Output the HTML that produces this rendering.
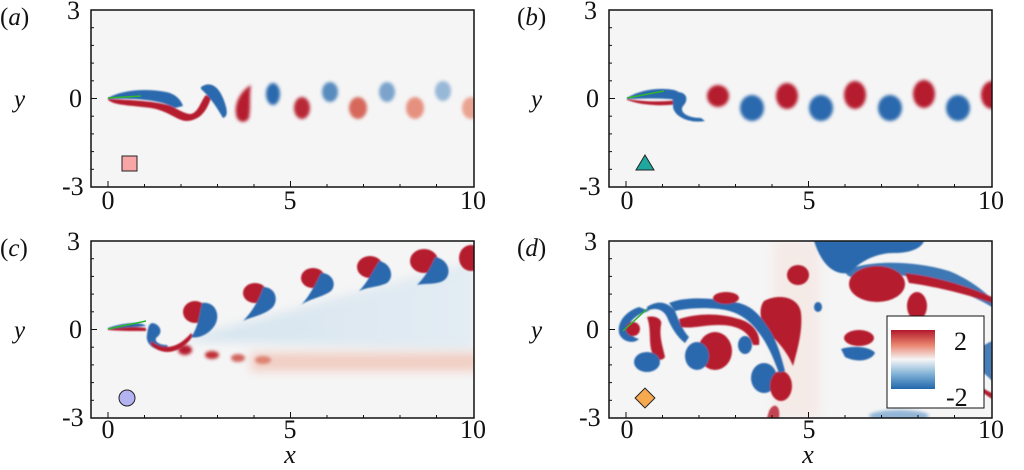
<!DOCTYPE html>
<html><head><meta charset="utf-8"><style>
html,body{margin:0;padding:0;background:#fff;width:1024px;height:470px;overflow:hidden}
svg{display:block}
</style></head><body>
<svg width="1024" height="470" viewBox="0 0 1024 470">
<defs>
<filter id="b1" x="-50%" y="-50%" width="200%" height="200%"><feGaussianBlur stdDeviation="1.6"/></filter>
<filter id="b2" x="-50%" y="-50%" width="200%" height="200%"><feGaussianBlur stdDeviation="5"/></filter>
<filter id="b0" x="-50%" y="-50%" width="200%" height="200%"><feGaussianBlur stdDeviation="0.8"/></filter>
<clipPath id="cp"><rect x="0" y="0" width="383" height="177"/></clipPath>
<linearGradient id="cb" x1="0" y1="0" x2="0" y2="1">
<stop offset="0" stop-color="#b2182b"/><stop offset="0.25" stop-color="#e8836d"/><stop offset="0.5" stop-color="#f6f6f6"/><stop offset="0.75" stop-color="#7fb1d6"/><stop offset="1" stop-color="#2166ac"/>
</linearGradient>
<linearGradient id="fan" x1="0" y1="0" x2="1" y2="0">
<stop offset="0" stop-color="#d3e3ef" stop-opacity="0.9"/><stop offset="1" stop-color="#e2ecf3" stop-opacity="0.9"/>
</linearGradient>
<g id="frame">
<rect x="0" y="0" width="383" height="177" fill="none" stroke="#111" stroke-width="1.5"/>
</g>
<g id="ticks" stroke="#111" stroke-width="1">
<line x1="17" y1="177" x2="17" y2="171"/><line x1="53.5" y1="177" x2="53.5" y2="174"/><line x1="90" y1="177" x2="90" y2="174"/><line x1="126.5" y1="177" x2="126.5" y2="174"/><line x1="163" y1="177" x2="163" y2="174"/><line x1="199.5" y1="177" x2="199.5" y2="171"/><line x1="236" y1="177" x2="236" y2="174"/><line x1="272.5" y1="177" x2="272.5" y2="174"/><line x1="309" y1="177" x2="309" y2="174"/><line x1="345.5" y1="177" x2="345.5" y2="174"/>
<line x1="0" y1="17.7" x2="3" y2="17.7"/><line x1="0" y1="35.4" x2="3" y2="35.4"/><line x1="0" y1="53.1" x2="3" y2="53.1"/><line x1="0" y1="70.8" x2="3" y2="70.8"/><line x1="0" y1="88.5" x2="6" y2="88.5"/><line x1="0" y1="106.2" x2="3" y2="106.2"/><line x1="0" y1="123.9" x2="3" y2="123.9"/><line x1="0" y1="141.6" x2="3" y2="141.6"/><line x1="0" y1="159.3" x2="3" y2="159.3"/>
</g>
</defs>

<!-- ===== Panel (a) ===== -->
<g transform="translate(91,10)">
<rect width="383" height="177" fill="#f5f5f5"/>
<g clip-path="url(#cp)">
<g filter="url(#b0)">
<path d="M17,88 C30,80 55,78 75,82 C85,84 90,90 92,96 L84,98 C70,90 45,88 17,89Z" fill="#2a69ad"/>
<path d="M17,89 C40,90 65,91 80,96 C88,100 94,104 100,104 C108,102 110,90 115,85 L120,88 C116,100 110,110 96,111 C86,111 78,101 60,98 C40,95 25,96 17,90Z" fill="#b51b2d"/>
<path d="M110,77 C120,70 128,78 132,88 C136,98 138,106 132,108 C126,98 120,88 110,79Z" fill="#2a69ad"/>
</g>
<g filter="url(#b1)">
<path d="M146,108 C142,96 148,82 160,75 C158,86 160,96 158,108 C155,113 149,113 146,108Z" fill="#b51b2d"/>
<ellipse cx="182" cy="84" rx="7" ry="11" fill="#2a69ad"/>
<ellipse cx="211" cy="98" rx="8" ry="11" fill="#b51b2d" opacity="0.95"/>
<ellipse cx="239" cy="82" rx="8" ry="10" fill="#3c78b5" opacity="0.85"/>
<ellipse cx="267" cy="98" rx="9" ry="11" fill="#d0503f" opacity="0.85"/>
<ellipse cx="296" cy="82" rx="8" ry="10" fill="#5c8fc2" opacity="0.8"/>
<ellipse cx="324" cy="98" rx="9" ry="11" fill="#e0705a" opacity="0.75"/>
<ellipse cx="352" cy="81" rx="8" ry="10" fill="#78a3cd" opacity="0.75"/>
<ellipse cx="380" cy="98" rx="9" ry="11" fill="#e68870" opacity="0.75"/>
</g>
<line x1="17" y1="88" x2="50" y2="86" stroke="#2db52d" stroke-width="1.5"/>
</g>
<use href="#ticks"/><use href="#frame"/>
<rect x="31" y="146" width="15" height="15" fill="#f7a5a5" stroke="#222" stroke-width="1"/>
</g>

<!-- ===== Panel (b) ===== -->
<g transform="translate(609,10)">
<rect width="383" height="177" fill="#f5f5f5"/>
<g clip-path="url(#cp)">
<g filter="url(#b0)">
<path d="M18,88 C30,80 50,77 65,80 C72,82 74,86 70,90 L60,89 C45,88 30,89 18,89Z" fill="#2a69ad"/>
<path d="M18,89 C35,92 55,92 68,90 L70,94 C55,96 35,96 18,90Z" fill="#b51b2d"/>
<path d="M68,82 C78,82 80,90 74,96 C70,102 78,108 92,108 L96,111 C80,114 64,106 64,96 C64,88 62,84 68,82Z" fill="#2a69ad"/>
</g>
<g filter="url(#b1)">
<circle cx="109" cy="86" r="11" fill="#b51b2d"/>
<ellipse cx="143" cy="98" rx="12" ry="13" fill="#2a69ad"/>
<ellipse cx="178" cy="86" rx="11" ry="13" fill="#b51b2d"/>
<ellipse cx="212" cy="98" rx="12" ry="13" fill="#2a69ad"/>
<ellipse cx="246" cy="85" rx="11" ry="14" fill="#b51b2d"/>
<ellipse cx="281" cy="98" rx="12" ry="13" fill="#2a69ad"/>
<ellipse cx="315" cy="84" rx="11" ry="14" fill="#b51b2d"/>
<ellipse cx="349" cy="98" rx="12" ry="13" fill="#2a69ad"/>
<ellipse cx="383" cy="85" rx="11" ry="14" fill="#b51b2d"/>
</g>
<line x1="18" y1="88" x2="55" y2="81" stroke="#2db52d" stroke-width="1.5"/>
</g>
<use href="#ticks"/><use href="#frame"/>
<polygon points="36,145 45,160 27,160" fill="#1fa8a0" stroke="#222" stroke-width="1"/>
</g>

<!-- ===== Panel (c) ===== -->
<g transform="translate(91,241)">
<rect width="383" height="177" fill="#f5f5f5"/>
<g clip-path="url(#cp)">
<polygon points="100,96 383,20 383,110 100,100" fill="url(#fan)" filter="url(#b2)"/>
<rect x="160" y="112" width="230" height="18" fill="#eeb3a2" opacity="0.6" filter="url(#b2)"/>
<g filter="url(#b1)">
<ellipse cx="94" cy="109" rx="7" ry="5" fill="#b51b2d"/>
<ellipse cx="121" cy="114" rx="7" ry="4" fill="#c02f35"/>
<ellipse cx="147" cy="117" rx="7" ry="4" fill="#cc4a42" opacity="0.85"/>
<ellipse cx="172" cy="119" rx="8" ry="4" fill="#d6634f" opacity="0.7"/>
</g>
<g filter="url(#b0)">
<path d="M17,87 C30,82 50,80 55,85 L45,86 C35,87 25,88 17,88Z" fill="#2a69ad"/>
<path d="M17,88 C30,87 45,85 55,87 L55,90 C40,90 28,90 17,89Z" fill="#b51b2d"/>
<path d="M62,82 C70,84 72,92 66,96 C62,100 68,104 76,104 L78,108 C66,112 54,104 56,94 C57,86 58,82 62,82Z" fill="#2a69ad"/>
<path d="M60,100 C70,108 85,110 100,92 L102,95 C88,115 70,114 60,104Z" fill="#b51b2d"/>
<ellipse cx="104" cy="71" rx="12" ry="11" fill="#b51b2d"/>
<path d="M111,62 C124,60 130,74 124,84 C118,94 106,98 100,96 C108,86 108,72 111,62Z" fill="#2a69ad"/>
<ellipse cx="164" cy="52" rx="12" ry="10" fill="#b51b2d"/>
<path d="M172,46 C184,46 188,58 182,66 C174,74 160,76 152,80 C160,72 168,60 172,46Z" fill="#2a69ad"/>
<ellipse cx="222" cy="37" rx="12" ry="10" fill="#b51b2d"/>
<path d="M230,32 C242,32 246,44 240,50 C232,56 218,58 210,64 C218,56 224,44 230,32Z" fill="#2a69ad"/>
<ellipse cx="279" cy="26" rx="13" ry="11" fill="#b51b2d"/>
<path d="M288,20 C300,22 304,36 296,42 C288,46 276,46 268,50 C276,42 282,30 288,20Z" fill="#2a69ad"/>
<ellipse cx="333" cy="20" rx="14" ry="12" fill="#b51b2d"/>
<path d="M344,16 C358,18 362,34 352,40 C344,44 334,42 326,44 C334,36 340,26 344,16Z" fill="#2a69ad"/>
<ellipse cx="380" cy="17" rx="12" ry="13" fill="#b51b2d"/>
</g>
<line x1="17" y1="88" x2="55" y2="80" stroke="#2db52d" stroke-width="1.5"/>
</g>
<use href="#ticks"/><use href="#frame"/>
<circle cx="36" cy="157" r="8" fill="#b3b3f2" stroke="#222" stroke-width="1"/>
</g>

<!-- ===== Panel (d) ===== -->
<g transform="translate(609,241)">
<rect width="383" height="177" fill="#f5f5f5"/>
<g clip-path="url(#cp)">
<rect x="165" y="0" width="45" height="177" fill="#f4ddd6" opacity="0.45" filter="url(#b2)"/>
<g filter="url(#b0)">
<path d="M205,0 L315,0 C312,8 300,12 285,12 C265,12 250,22 240,32 C228,34 214,28 205,0Z" fill="#2a69ad"/>
<path d="M236,30 C255,20 300,18 340,30 C360,38 375,50 383,58 L383,66 C360,52 320,38 290,34 C262,32 250,42 238,34Z" fill="#2a69ad" opacity="0.9"/>
<ellipse cx="268" cy="43" rx="28" ry="18" fill="#b51b2d"/>
<path d="M296,32 C330,36 360,46 383,56 L383,62 C360,54 330,46 300,42Z" fill="#b51b2d"/>
<ellipse cx="189" cy="34" rx="11" ry="10" fill="#b51b2d"/>
<ellipse cx="308" cy="65" rx="10" ry="14" fill="#b51b2d"/>
<ellipse cx="209" cy="66" rx="4" ry="5" fill="#2a69ad"/>
<ellipse cx="250" cy="97" rx="15" ry="8" fill="#b51b2d"/>
<path d="M232,108 C245,104 262,106 266,112 C262,120 248,122 236,116Z" fill="#2a69ad"/>
<path d="M355,120 C366,110 374,104 383,100 L383,140 C374,130 364,124 355,120Z" fill="#2a69ad" opacity="0.85"/>
<path d="M362,140 C372,146 378,150 383,152 L383,158 C374,152 366,146 362,140Z" fill="#b51b2d"/>
<path d="M155,60 C170,52 190,56 192,72 C194,90 188,110 184,125 C178,110 168,100 158,90 C150,80 150,66 155,60Z" fill="#b51b2d"/>
<ellipse cx="155" cy="137" rx="13" ry="15" fill="#2a69ad"/>
<ellipse cx="172" cy="145" rx="11" ry="15" fill="#b51b2d"/>
<path d="M30,66 C18,70 8,80 10,92 C12,100 24,104 30,98 C22,96 18,90 20,84 C24,76 32,72 40,70Z" fill="#2a69ad"/>
<ellipse cx="24" cy="88" rx="7" ry="7" fill="#b51b2d"/>
<path d="M38,76 C42,86 40,98 42,108 C44,118 52,122 56,116 C54,106 50,96 52,84 C54,78 46,74 38,76Z" fill="#b51b2d"/>
<ellipse cx="38" cy="121" rx="13" ry="10" fill="#2a69ad"/>
<path d="M38,66 C50,58 60,62 66,70 C70,80 74,90 80,96 L76,102 C68,96 62,86 58,76 C54,68 46,66 38,70Z" fill="#2a69ad"/>
<path d="M60,62 C80,54 110,58 130,62 C145,66 152,76 160,88 C168,100 172,115 176,130 L170,132 C164,116 158,102 150,92 C140,78 128,70 110,68 C90,66 76,68 66,70Z" fill="#2a69ad"/>
<ellipse cx="117" cy="57" rx="13" ry="6" fill="#b51b2d"/>
<path d="M70,78 C90,72 110,72 130,78 C145,82 152,94 150,104 L144,104 C140,90 128,84 110,84 C95,84 82,88 72,86Z" fill="#b51b2d"/>
<ellipse cx="106" cy="110" rx="17" ry="19" fill="#b51b2d"/>
<ellipse cx="88" cy="115" rx="12" ry="14" fill="#2a69ad"/>
<ellipse cx="136" cy="104" rx="7" ry="9" fill="#2a69ad"/>
<path d="M160,170 C165,160 172,165 170,177 L158,177Z" fill="#b51b2d" opacity="0.8"/>
</g>
<ellipse cx="290" cy="175" rx="30" ry="6" fill="#6a9ccb" opacity="0.7" filter="url(#b1)"/>
<line x1="14" y1="90" x2="38" y2="68" stroke="#2db52d" stroke-width="1.5"/>
</g>
<use href="#ticks"/><use href="#frame"/>
<rect x="29" y="150" width="14" height="14" fill="#f6a94f" stroke="#222" stroke-width="1" transform="rotate(45 36 157)"/>
</g>

<!-- colorbar legend -->
<rect x="887" y="316" width="97" height="92" fill="#fff" stroke="#111" stroke-width="1"/>
<rect x="891" y="330" width="44" height="59" fill="url(#cb)"/>
<g font-family="Liberation Serif, serif" fill="#111" font-size="26">
<text x="954" y="350">2</text>
<text x="946" y="406">-2</text>
</g>

<!-- labels -->
<g font-family="Liberation Serif, serif" font-size="25" fill="#111">
<text x="0" y="25">(<tspan font-style="italic">a</tspan>)</text>
<text x="517" y="25">(<tspan font-style="italic">b</tspan>)</text>
<text x="0" y="256">(<tspan font-style="italic">c</tspan>)</text>
<text x="517" y="256">(<tspan font-style="italic">d</tspan>)</text>
<g font-size="26">
<text x="67" y="19">3</text><text x="62" y="195">-3</text><text x="69" y="107">0</text>
<text x="584" y="19">3</text><text x="579" y="195">-3</text><text x="586" y="107">0</text>
<text x="67" y="250">3</text><text x="62" y="426">-3</text><text x="69" y="338">0</text>
<text x="584" y="250">3</text><text x="579" y="426">-3</text><text x="586" y="338">0</text>
</g>
<text x="14" y="107" font-style="italic">y</text><text x="531" y="107" font-style="italic">y</text>
<text x="14" y="338" font-style="italic">y</text><text x="531" y="338" font-style="italic">y</text>
<g text-anchor="middle" font-size="26">
<text x="108" y="209">0</text><text x="290" y="209">5</text><text x="473" y="209">10</text>
<text x="627" y="209">0</text><text x="809" y="209">5</text><text x="991" y="209">10</text>
<text x="108" y="438">0</text><text x="290" y="438">5</text><text x="473" y="438">10</text>
<text x="627" y="438">0</text><text x="809" y="438">5</text><text x="991" y="438">10</text>
<text x="290" y="463" font-style="italic">x</text><text x="808" y="463" font-style="italic">x</text>
</g>
</g>
</svg>
</body></html>
